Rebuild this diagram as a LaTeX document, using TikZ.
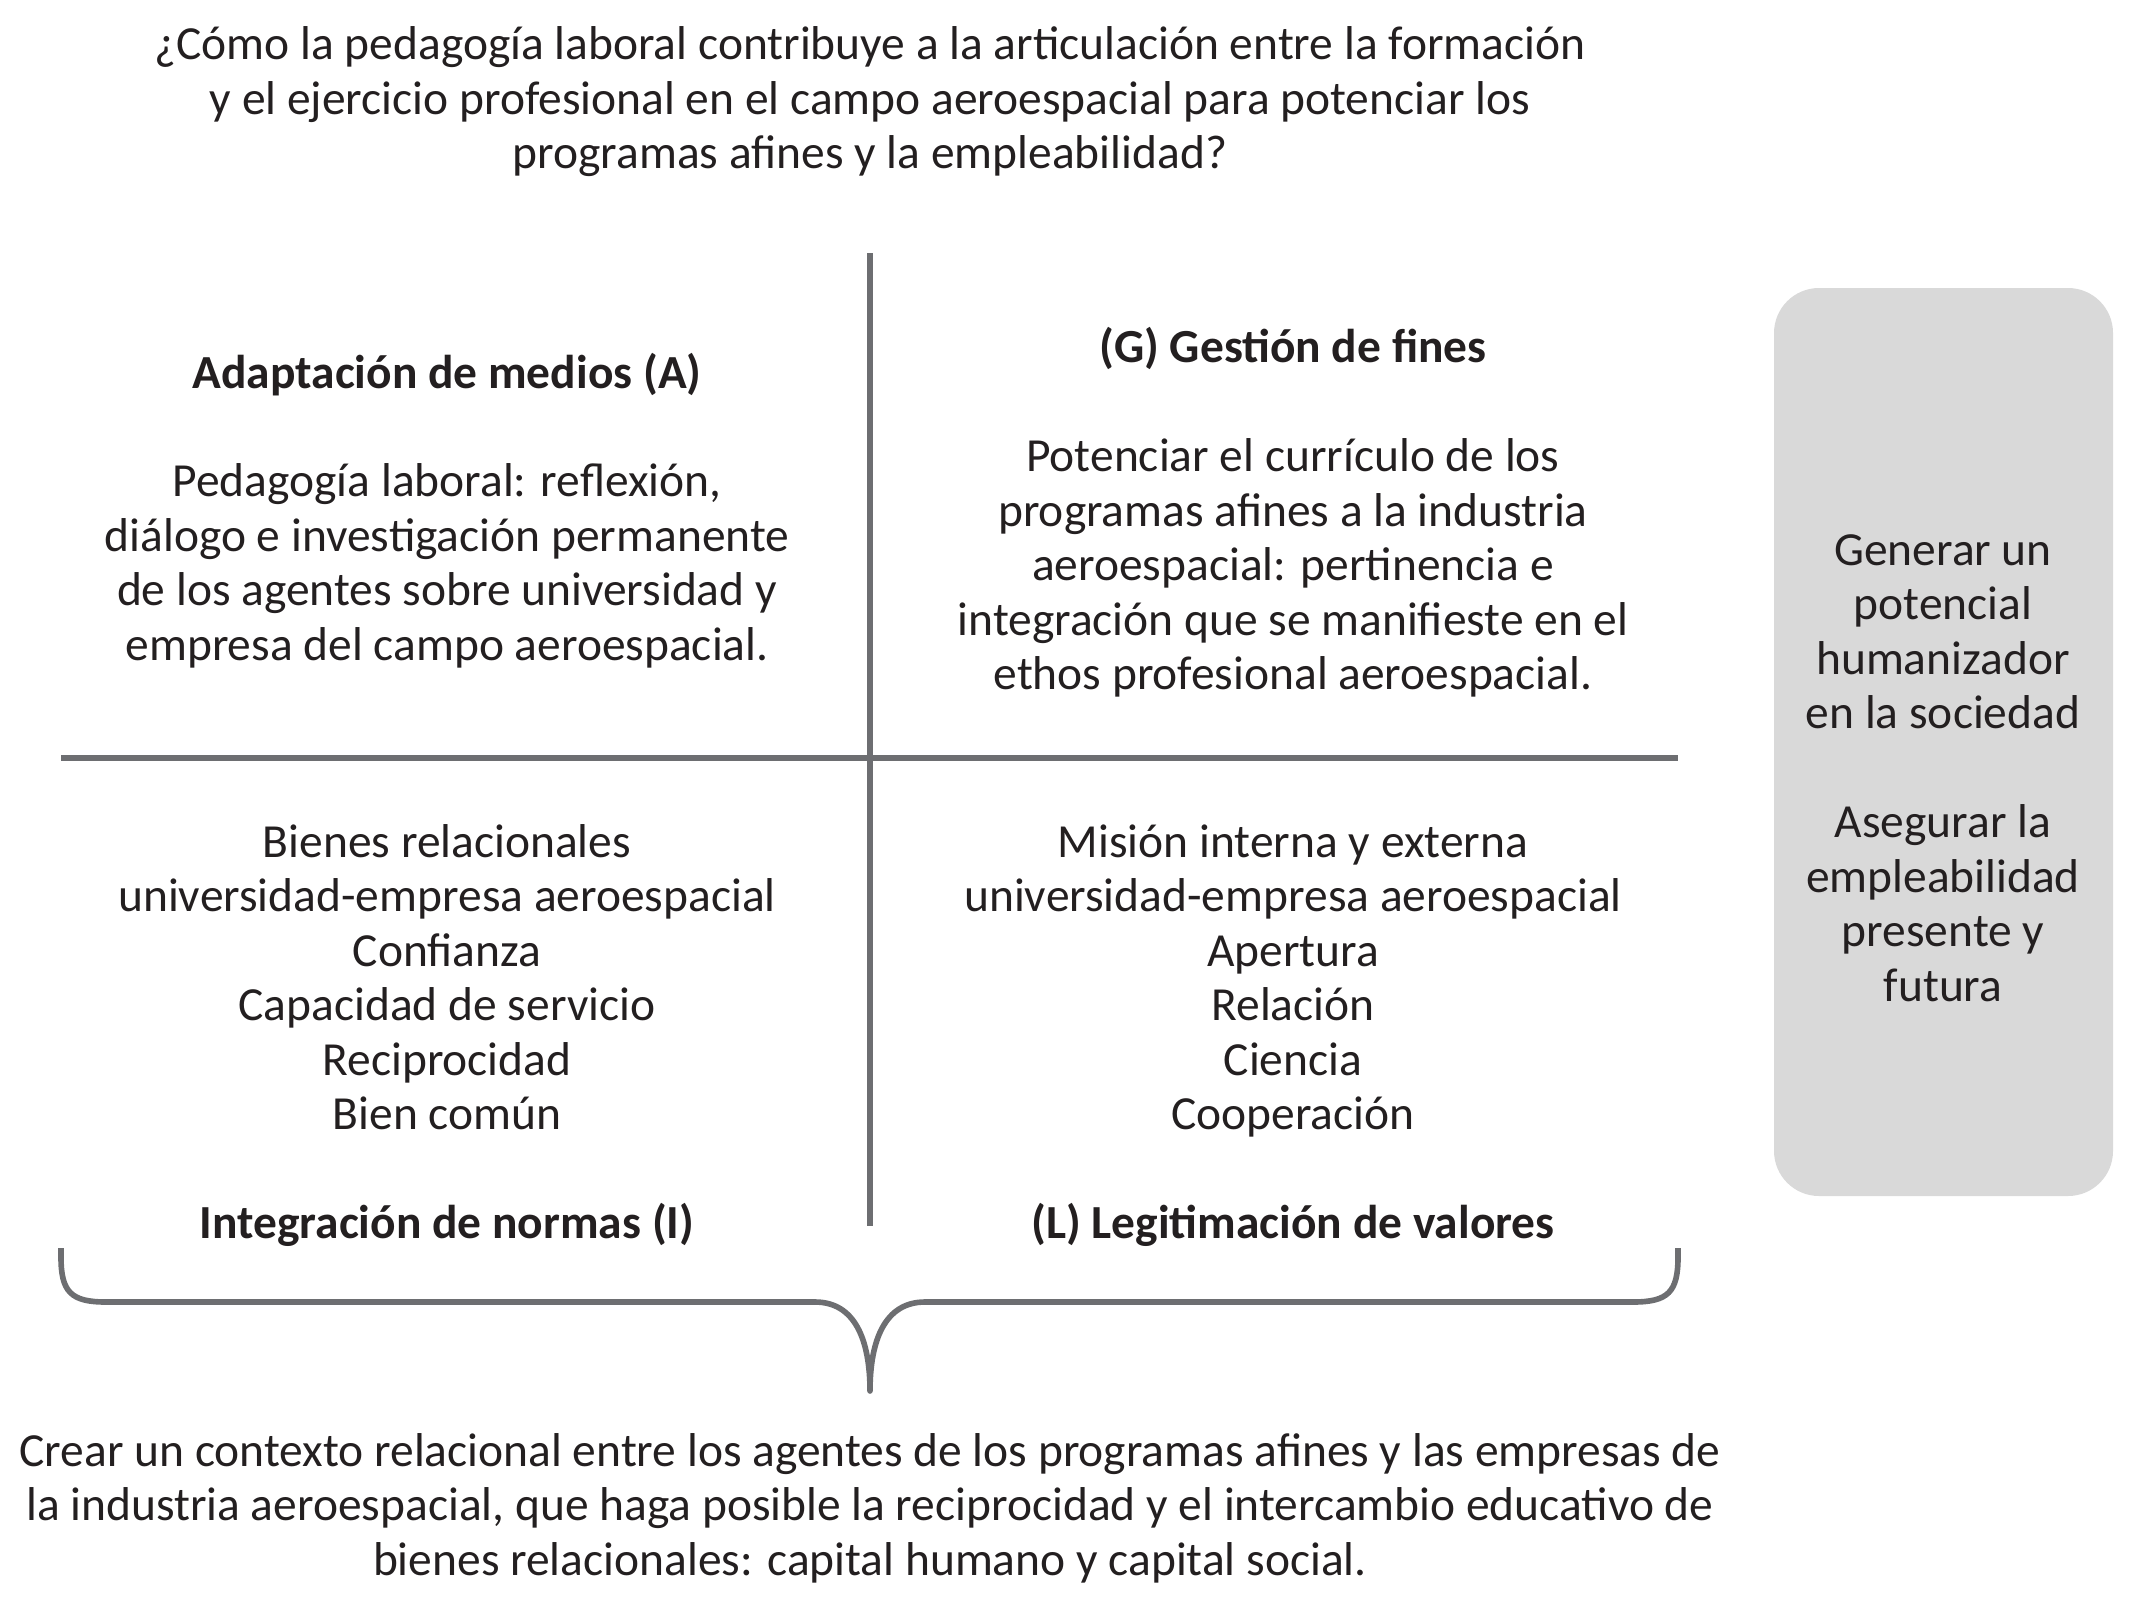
\documentclass[tikz,border=0pt]{standalone}
\usepackage{fontspec}
\setmainfont{Carlito}
\usepackage{xcolor}
\usetikzlibrary{positioning}
\definecolor{inkgray}{RGB}{35,31,32}
\definecolor{rulegray}{RGB}{109,110,113}
\definecolor{boxgray}{RGB}{217,217,217}

\begin{document}
\begin{tikzpicture}[
  x={(0.01cm,0)}, y={(0,-0.01cm)},
  txt/.style={align=center, text=inkgray, font=\fontsize{13.5}{15.5}\selectfont, inner sep=0pt},
  head/.style={txt, font=\fontsize{13.5}{15.5}\selectfont\bfseries},
  axis/.style={draw=rulegray, line width=1.6pt},
  goalbox/.style={fill=boxgray, rounded corners=0.45cm}
]
  \useasboundingbox (0,0) rectangle (2143,1609);

  % Question on top
  \node[txt] (question) at (870,102) {¿Cómo la pedagogía laboral contribuye a la articulación entre la formación\\
    y el ejercicio profesional en el campo aeroespacial para potenciar los\\
    programas afines y la empleabilidad?};

  % Cross of the four quadrants
  \coordinate (vtop) at (870,253);
  \coordinate (vbot) at (870,1226);
  \coordinate (hleft) at (61,758);
  \coordinate (hright) at (1678,758);
  \draw[axis] (vtop) -- (vbot);
  \draw[axis] (hleft) -- (hright);

  % Quadrant A
  \node[head] (headA) at (447,375) {Adaptación de medios (A)};
  \node[txt] (bodyA) at (447,566) {Pedagogía laboral: reflexión,\\
    diálogo e investigación permanente\\
    de los agentes sobre universidad y\\
    empresa del campo aeroespacial.};

  % Quadrant G
  \node[head] (headG) at (1293,348) {(G) Gestión de fines};
  \node[txt] (bodyG) at (1293,568) {Potenciar el currículo de los\\
    programas afines a la industria\\
    aeroespacial: pertinencia e\\
    integración que se manifieste en el\\
    ethos profesional aeroespacial.};

  % Quadrant I
  \node[txt] (bodyI) at (447,977) {Bienes relacionales\\
    universidad-empresa aeroespacial\\
    Confianza\\
    Capacidad de servicio\\
    Reciprocidad\\
    Bien común};
  \node[head] (headI) at (447,1225) {Integración de normas (I)};

  % Quadrant L
  \node[txt] (bodyL) at (1293,981) {Misión interna y externa\\
    universidad-empresa aeroespacial\\
    Apertura\\
    Relación\\
    Ciencia\\
    Cooperación};
  \node[head] (headL) at (1293,1225) {(L) Legitimación de valores};

  % Side box with the aims
  \fill[goalbox] (1774,288) rectangle (2113,1196);
  \node[txt] (aims) at (1943,768) {Generar un\\
    potencial\\
    humanizador\\
    en la sociedad\\[15.5pt]
    Asegurar la\\
    empleabilidad\\
    presente y\\
    futura};

  % Brace under the quadrants
  \coordinate (braceL) at (61,1248);
  \coordinate (braceR) at (1678,1248);
  \coordinate (braceTip) at (870,1391);
  \draw[axis, line join=round] (braceL) -- (61,1257) .. controls (61,1292) and (71,1302) .. (106,1302)
    -- (815,1302) .. controls (855,1302) and (870,1340) .. (braceTip)
    .. controls (870,1340) and (885,1302) .. (925,1302)
    -- (1633,1302) .. controls (1668,1302) and (1678,1292) .. (1678,1257) -- (braceR);

  % Conclusion below
  \node[txt] (context) at (870,1508) {Crear un contexto relacional entre los agentes de los programas afines y las empresas de\\
    la industria aeroespacial, que haga posible la reciprocidad y el intercambio educativo de\\
    bienes relacionales: capital humano y capital social.};
\end{tikzpicture}
\end{document}
